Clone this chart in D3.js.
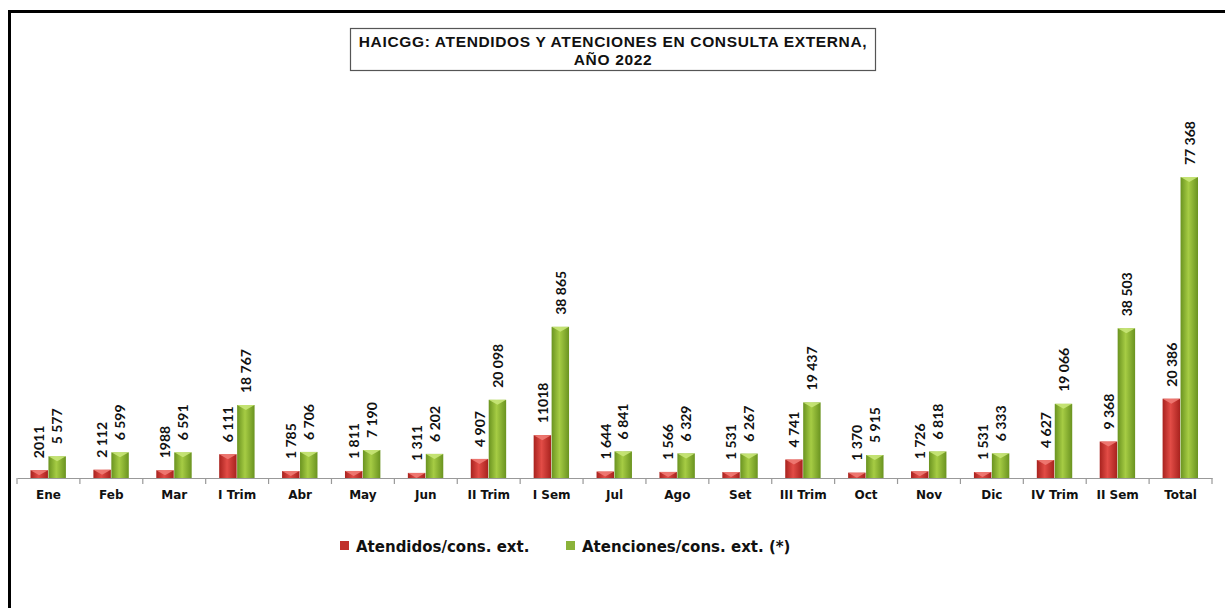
<!DOCTYPE html>
<html><head><meta charset="utf-8">
<script src="https://cdn.jsdelivr.net/npm/d3@7"></script>
<style>body{margin:0;background:#fff}svg{display:block}</style>
</head><body>
<script>
const categories = ["Ene","Feb","Mar","I Trim","Abr","May","Jun","II Trim","I Sem","Jul","Ago","Set","III Trim","Oct","Nov","Dic","IV Trim","II Sem","Total"];
const atendidos = [2011,2112,1988,6111,1785,1811,1311,4907,11018,1644,1566,1531,4741,1370,1726,1531,4627,9368,20386];
const atenciones = [5577,6599,6591,18767,6706,7190,6202,20098,38865,6841,6329,6267,19437,5915,6818,6333,19066,38503,77368];
const atendidosLabels = ["2011","2 112","1988","6 111","1 785","1 811","1 311","4 907","11018","1 644","1 566","1 531","4 741","1 370","1 726","1 531","4 627","9 368","20 386"];
const atencionesLabels = ["5 577","6 599","6 591","18 767","6 706","7 190","6 202","20 098","38 865","6 841","6 329","6 267","19 437","5 915","6 818","6 333","19 066","38 503","77 368"];
const seriesNames = ["Atendidos/cons. ext.","Atenciones/cons. ext. (*)"];
const titleLines = ["HAICGG: ATENDIDOS Y ATENCIONES EN CONSULTA EXTERNA,","AÑO 2022"];

const W=1225,H=608;
const svg=d3.select("body").append("svg").attr("width",W).attr("height",H);
const defs=svg.append("defs");
function grad(id,edge,mid){
  const g=defs.append("linearGradient").attr("id",id).attr("x1","0").attr("x2","1").attr("y1","0").attr("y2","0");
  g.append("stop").attr("offset","0").attr("stop-color",edge);
  g.append("stop").attr("offset","0.45").attr("stop-color",mid);
  g.append("stop").attr("offset","1").attr("stop-color",edge);
}
grad("gRed","#a8221e","#e24c46");
grad("gGreen","#6a9320","#a6cc44");
const colors=["url(#gRed)","url(#gGreen)"];
const capColors=["#ef7b74","#c8e678"];
const legendColors=["#c0302b","#8bb33a"];

// outer border
svg.append("rect").attr("x",9.5).attr("y",11.5).attr("width",W+20).attr("height",H+20)
  .attr("fill","none").attr("stroke","#000").attr("stroke-width",3);

// title box
svg.append("rect").attr("x",350.5).attr("y",28.5).attr("width",525).attr("height",42)
  .attr("fill","#fff").attr("stroke","#555").attr("stroke-width",1.2);
svg.append("g").selectAll("text").data(titleLines).join("text")
  .attr("x",613).attr("y",(d,i)=>47+i*18).attr("text-anchor","middle")
  .attr("font-family","Liberation Sans, Arial, sans-serif").attr("font-weight","bold")
  .attr("font-size",15.5).attr("letter-spacing",0.65).attr("fill","#111").text(d=>d);

const x0=d3.scaleBand().domain(categories).range([17,1212]).padding(0);
const x1=d3.scaleBand().domain([0,1]).range([13.5,x0.bandwidth()-13.5]).padding(0);
const y=d3.scaleLinear().domain([0,90000]).range([478,128]);

const series=[atendidos,atenciones];
const labels=[atendidosLabels,atencionesLabels];

const g=svg.append("g");
series.forEach((vals,s)=>{
  const gs=g.append("g");
  gs.selectAll("rect.bar").data(vals).join("rect").attr("class","bar")
    .attr("x",(d,i)=>x0(categories[i])+x1(s)).attr("width",x1.bandwidth()-0.5)
    .attr("y",d=>y(d)).attr("height",d=>478-y(d)).attr("fill",colors[s]);
  gs.selectAll("path.cap").data(vals).join("path").attr("class","cap")
    .attr("d",(d,i)=>{const xx=x0(categories[i])+x1(s),w=x1.bandwidth()-0.5,yy=y(d);
      return `M${xx},${yy}L${xx+w},${yy}L${xx+w/2},${yy+5}Z`;})
    .attr("fill",capColors[s]).attr("opacity",0.9);
  gs.selectAll("text").data(vals).join("text")
    .attr("transform",(d,i)=>`translate(${x0(categories[i])+x1(s)+x1.bandwidth()/2+5},${y(d)-12}) rotate(-90)`)
    .attr("font-family","Lato, sans-serif").attr("font-weight","bold").attr("font-size",14)
    .attr("fill","#111").text((d,i)=>labels[s][i]);
});

// x axis
const axis=d3.axisBottom(x0).tickSize(0).tickPadding(12);
const ax=svg.append("g").attr("transform","translate(0,478)").call(axis);
ax.select(".domain").attr("stroke","#999").attr("stroke-width",1.2);
ax.selectAll("text").attr("font-family","DejaVu Sans, sans-serif").attr("font-weight","bold").attr("font-size",12).attr("fill","#111");
svg.append("g").selectAll("line").data(categories.concat(["_end"])).join("line")
  .attr("x1",(d,i)=>17+i*x0.bandwidth()).attr("x2",(d,i)=>17+i*x0.bandwidth())
  .attr("y1",478).attr("y2",484).attr("stroke","#999").attr("stroke-width",1.2);

// legend
const legX=[340,566];
const lg=svg.append("g");
seriesNames.forEach((n,i)=>{
  lg.append("rect").attr("x",legX[i]).attr("y",541).attr("width",9).attr("height",9).attr("fill",legendColors[i]);
  lg.append("text").attr("x",legX[i]+16).attr("y",551.5).attr("font-family","DejaVu Sans, sans-serif")
    .attr("font-weight","bold").attr("font-size",15).attr("fill","#111").text(n);
});
</script>
</body></html>
